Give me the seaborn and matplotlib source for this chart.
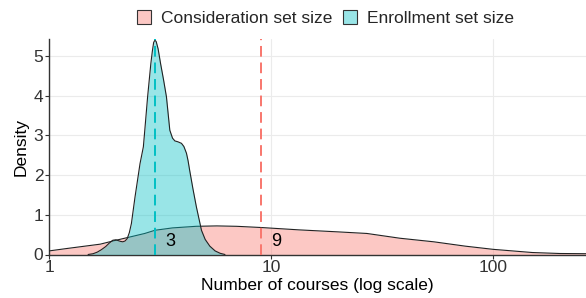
import numpy as np
import pandas as pd
import matplotlib
matplotlib.use("Agg")
import matplotlib.pyplot as plt
import seaborn as sns
from matplotlib.patches import Patch

# Enrollment set size density (x in courses, density on log10 scale)
enroll_x = [1.50, 1.58, 1.65, 1.72, 1.80, 1.87, 1.94, 2.00, 2.05, 2.10, 2.15, 2.20,
            2.25, 2.30, 2.35, 2.44, 2.57, 2.66, 2.70, 2.78, 2.875, 2.92, 2.96, 3.00,
            3.04, 3.10, 3.18, 3.28, 3.38, 3.50, 3.60, 3.69, 3.80, 3.95, 4.05, 4.16,
            4.23, 4.30, 4.45, 4.61, 4.86, 5.05, 5.30, 5.60, 5.90, 6.20]
enroll_y = [0.00, 0.02, 0.06, 0.12, 0.20, 0.29, 0.36, 0.37, 0.35, 0.33, 0.32, 0.34,
            0.40, 0.55, 0.78, 1.45, 2.29, 2.71, 3.13, 3.97, 4.81, 5.12, 5.34, 5.40,
            5.36, 5.18, 4.81, 4.40, 3.97, 3.13, 2.93, 2.86, 2.84, 2.80, 2.72, 2.55,
            2.36, 2.12, 1.65, 1.20, 0.61, 0.38, 0.21, 0.09, 0.03, 0.00]

# Consideration set size density
consid_x = [1.00, 1.20, 1.45, 1.70, 1.94, 2.31, 2.70, 3.00, 3.60, 4.60, 5.70, 7.00,
            9.00, 13.4, 20.0, 27.0, 38.0, 54.0, 75.0, 100.0, 150.0, 200.0, 262.0]
consid_y = [0.09, 0.15, 0.21, 0.26, 0.34, 0.44, 0.53, 0.61, 0.67, 0.71, 0.72, 0.71,
            0.68, 0.62, 0.57, 0.53, 0.41, 0.32, 0.21, 0.13, 0.05, 0.025, 0.02]

medians = [3, 9]
median_labels = ["3", "9"]
series_names = ["Consideration set size", "Enrollment set size"]
colors = ["#F8766D", "#00BFC4"]

x_ticks = [1, 10, 100]
x_tick_labels = ["1", "10", "100"]
y_ticks = [0, 1, 2, 3, 4, 5]

sns.set_theme(style="white")
plt.rcParams['font.family'] = ['Liberation Sans', 'DejaVu Sans']

fig = plt.figure(figsize=(5.86, 2.98), dpi=100)
ax = fig.add_axes([49 / 586, 1 - 254.5 / 298, 1 - 49 / 586, (254.5 - 39.3) / 298])

df_c = pd.DataFrame({"x": consid_x, "y": consid_y})
df_e = pd.DataFrame({"x": enroll_x, "y": enroll_y})

ax.set_xscale("log")
ax.fill_between(df_c["x"], 0, df_c["y"], color=colors[0], alpha=0.4, lw=0, zorder=2)
sns.lineplot(data=df_c, x="x", y="y", ax=ax, color="#222222", lw=0.8, zorder=3)
ax.fill_between(df_e["x"], 0, df_e["y"], color=colors[1], alpha=0.4, lw=0, zorder=4)
sns.lineplot(data=df_e, x="x", y="y", ax=ax, color="#222222", lw=0.8, zorder=5)

ax.axvline(medians[0], color=colors[1], ls=(0, (5.5, 3)), lw=1.4, zorder=6)
ax.axvline(medians[1], color=colors[0], ls=(0, (5.5, 3)), lw=1.4, zorder=6)
for m, lab in zip(medians, median_labels):
    ax.text(m * 1.17, 0.34, lab, fontsize=13, color="black", va="center", ha="center", zorder=7)

ax.set_xlim(1, 262)
ax.set_ylim(0, 5.42)
ax.set_xticks(x_ticks)
ax.set_xticklabels(x_tick_labels)
ax.set_yticks(y_ticks)
ax.minorticks_off()
ax.grid(True, color="#EBEBEB", lw=0.8, zorder=0)
ax.set_axisbelow(True)
for s in ["top", "right"]:
    ax.spines[s].set_visible(False)
for s in ["left", "bottom"]:
    ax.spines[s].set_color("#333333")
    ax.spines[s].set_linewidth(1.0)
ax.tick_params(axis="both", which="major", labelsize=12.5, colors="#333333",
               length=3, width=0.8, direction="out", pad=1, left=True, bottom=True)
ax.set_xlabel("Number of courses (log scale)", fontsize=12.5, color="black", labelpad=2)
ax.set_ylabel("Density", fontsize=12.5, color="black", labelpad=4)

handles = [Patch(facecolor=matplotlib.colors.to_rgba(c, 0.4), edgecolor="#333333", lw=0.8) for c in colors]
fig.legend(handles, series_names, loc="center", bbox_to_anchor=(0.555, 0.941), ncol=2,
           frameon=False, fontsize=12.5, handlelength=0.8, handleheight=0.86,
           handletextpad=0.57, columnspacing=0.63, borderpad=0)

fig.savefig("out.png", dpi=100)
